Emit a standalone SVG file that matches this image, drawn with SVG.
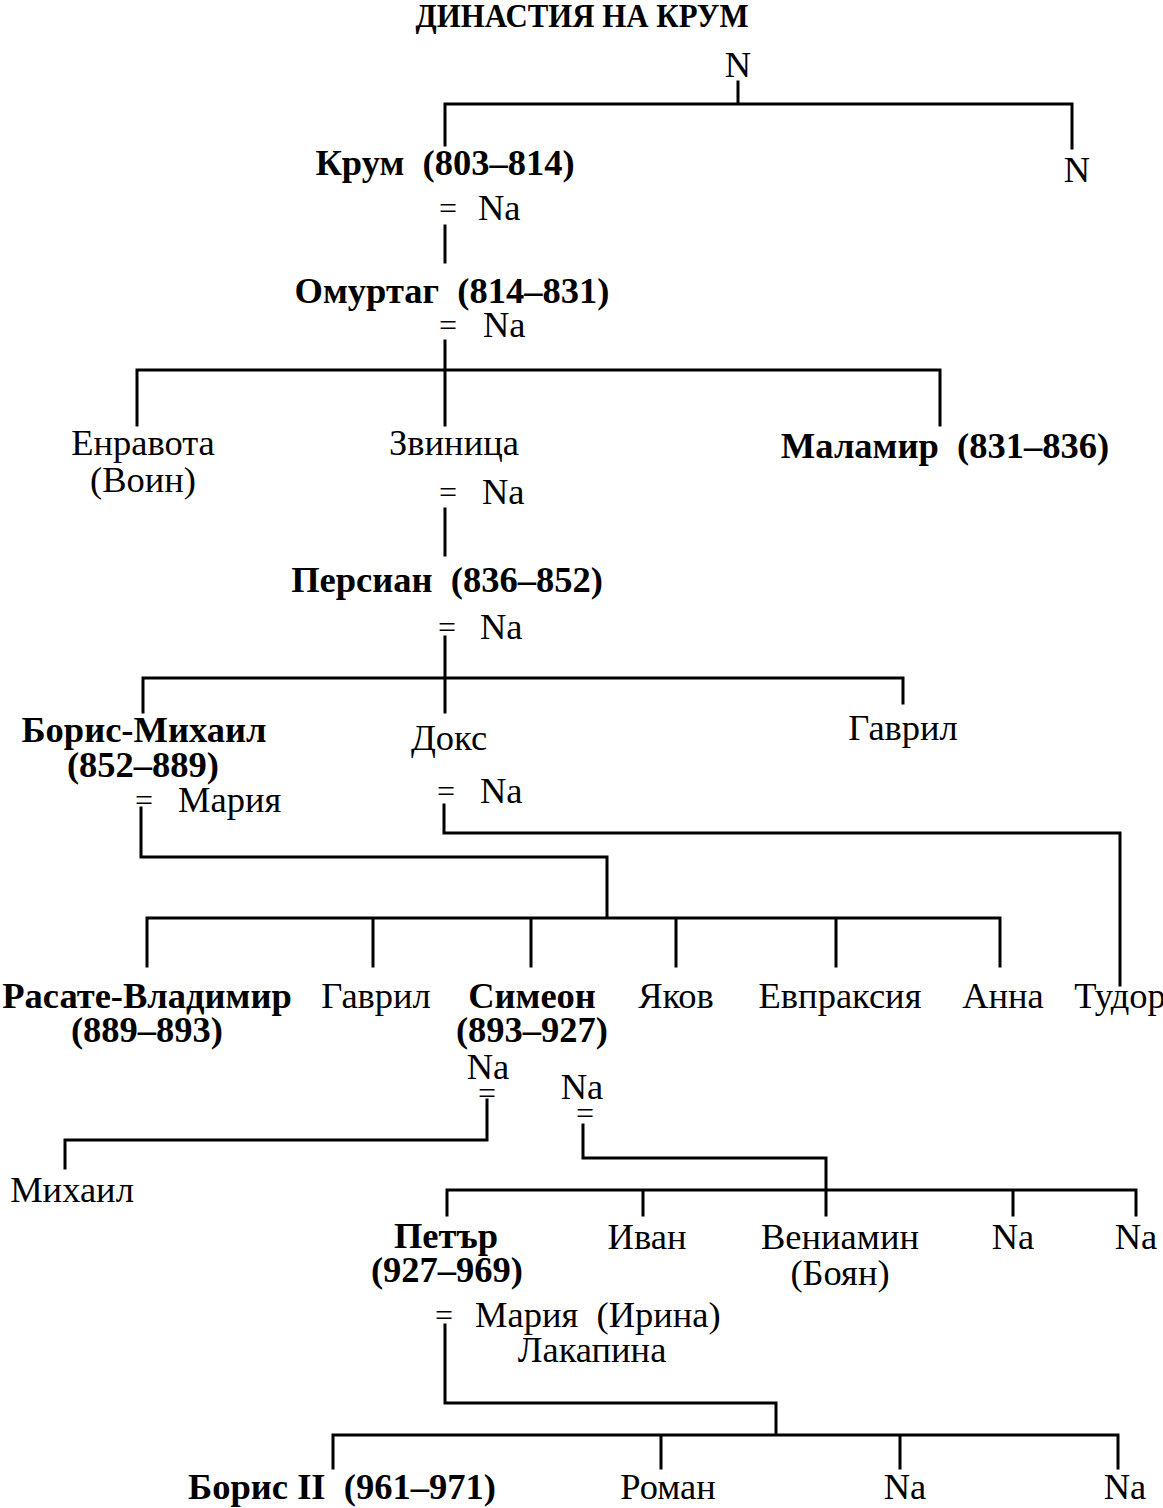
<svg xmlns="http://www.w3.org/2000/svg" width="1163" height="1508" viewBox="0 0 1163 1508">
<style>
text{font-family:"Liberation Serif","Times New Roman",serif;font-size:36.5px;fill:#000;white-space:pre}
.b{font-weight:bold}
.m{text-anchor:middle}
.t{font-weight:bold;font-size:33px}
.e{font-size:32px}
#connectors path{fill:none;stroke:#000;stroke-width:3;stroke-linecap:square}
</style>
<rect width="1163" height="1508" fill="#fff"/>
<text class="t m" x="582" y="27" textLength="333" lengthAdjust="spacingAndGlyphs">ДИНАСТИЯ НА КРУМ</text>
<g id="connectors">
<path d="M738 82V104M445 145V104H1072V148"/>
<path d="M445 226V262"/>
<path d="M445 341V425M137 425V370H940V425"/>
<path d="M445 509V555"/>
<path d="M445 637V712M143 712V678H903V703"/>
<path d="M141 808V857H607V918M147 966V918H1000V966M373 918V966M531 918V966M676 918V966M836 918V966"/>
<path d="M444 805V833H1120V985"/>
<path d="M487 1100V1140H65V1168"/>
<path d="M583 1125V1158H826V1215M447 1215V1190H1136V1215M643 1190V1215M1013 1190V1215"/>
<path d="M445 1325V1403H776V1435M333 1468V1435H1118V1468M661 1435V1468M900 1435V1468"/>
</g>
<g id="n-top"><text class="m" x="738" y="77">N</text></g>
<g id="n-right"><text class="m" x="1077" y="182">N</text></g>
<g id="krum"><text class="b m" x="445" y="175">Крум  (803–814)</text><text class="m e" x="448" y="219">=</text><text x="478" y="220">Na</text></g>
<g id="omurtag"><text class="b m" x="452" y="303">Омуртаг  (814–831)</text><text class="m e" x="448" y="336">=</text><text x="483" y="337">Na</text></g>
<g id="enravota"><text class="m" x="143" y="455">Енравота</text><text class="m" x="143" y="492">(Воин)</text></g>
<g id="zvinitsa"><text class="m" x="454" y="455">Звиница</text><text class="m e" x="448" y="503">=</text><text x="482" y="504">Na</text></g>
<g id="malamir"><text class="b m" x="945" y="458">Маламир  (831–836)</text></g>
<g id="persian"><text class="b m" x="447" y="592">Персиан  (836–852)</text><text class="m e" x="447" y="638">=</text><text x="480" y="639">Na</text></g>
<g id="boris-mihail"><text class="b m" x="144" y="742">Борис-Михаил</text><text class="b m" x="143" y="777">(852–889)</text><text class="m e" x="144" y="811">=</text><text x="178" y="812">Мария</text></g>
<g id="doks"><text class="m" x="449" y="750">Докс</text><text class="m e" x="446" y="802">=</text><text x="480" y="803">Na</text></g>
<g id="gavril1"><text class="m" x="903" y="740">Гаврил</text></g>
<g id="rasate"><text class="b m" x="147" y="1008">Расате-Владимир</text><text class="b m" x="147" y="1042">(889–893)</text></g>
<g id="gavril2"><text class="m" x="376" y="1008">Гаврил</text></g>
<g id="simeon"><text class="b m" x="532" y="1008">Симеон</text><text class="b m" x="532" y="1042">(893–927)</text></g>
<g id="yakov"><text class="m" x="676" y="1008">Яков</text></g>
<g id="evpraksia"><text class="m" x="840" y="1008">Евпраксия</text></g>
<g id="anna"><text class="m" x="1003" y="1008">Анна</text></g>
<g id="tudor"><text class="m" x="1120" y="1008">Тудор</text></g>
<g id="na-wife1"><text class="m" x="488" y="1079">Na</text><text class="m e" x="487" y="1104">=</text></g>
<g id="na-wife2"><text class="m" x="582" y="1099">Na</text><text class="m e" x="585" y="1124">=</text></g>
<g id="mihail"><text class="m" x="72" y="1202">Михаил</text></g>
<g id="petar"><text class="b m" x="446" y="1248">Петър</text><text class="b m" x="447" y="1282">(927–969)</text><text class="m e" x="444" y="1326">=</text><text x="475" y="1327">Мария  (Ирина)</text><text class="m" x="592" y="1362">Лакапина</text></g>
<g id="ivan"><text class="m" x="647" y="1249">Иван</text></g>
<g id="veniamin"><text class="m" x="840" y="1249">Вениамин</text><text class="m" x="840" y="1285">(Боян)</text></g>
<g id="na-c1"><text class="m" x="1013" y="1249">Na</text></g>
<g id="na-c2"><text class="m" x="1136" y="1249">Na</text></g>
<g id="boris2"><text class="b m" x="342" y="1499">Борис II  (961–971)</text></g>
<g id="roman"><text class="m" x="668" y="1499">Роман</text></g>
<g id="na-g1"><text class="m" x="905" y="1499">Na</text></g>
<g id="na-g2"><text class="m" x="1125" y="1499">Na</text></g>
</svg>
